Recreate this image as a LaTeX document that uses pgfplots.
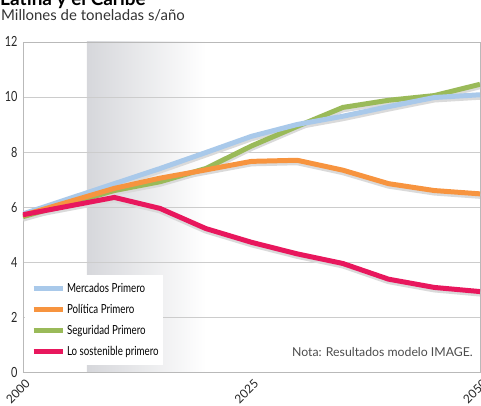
\documentclass[border=0pt]{standalone}
\usepackage{pgfplots}
\pgfplotsset{compat=1.18}
\usepackage{fontspec}
\setmainfont{Lato}
\newfontfamily\cond{Lato}[FakeStretch=0.78]
\definecolor{cblue}{RGB}{169,201,234}
\definecolor{corange}{RGB}{247,148,63}
\definecolor{cgreen}{RGB}{154,186,89}
\definecolor{cpink}{RGB}{232,23,93}
\definecolor{shadeg}{RGB}{214,215,219}
\definecolor{shadow}{RGB}{218,218,218}
\newcommand{\legtxt}[1]{\makebox[88pt][l]{#1}}
\begin{document}
\begin{tikzpicture}
\begin{axis}[
  scale only axis, width=458pt, height=331pt,
  xmin=2000, xmax=2050, ymin=0, ymax=12,
  set layers,
  axis line style={draw=gray!55, line width=0.8pt},
  ymajorgrids, grid style={gray!40, line width=0.8pt},
  xtick={2000,2025,2050}, ytick={0,2,...,12},
  major tick length=0pt,
  /pgf/number format/assume math mode=true,
  /pgf/number format/1000 sep={},
  yticklabel style={font=\cond\fontsize{14}{14}\selectfont, text=black!85, xshift=-2pt},
  xticklabel style={font=\fontsize{12}{12}\selectfont, text=black!85, rotate=45, anchor=east, inner sep=0pt, xshift=-3pt, yshift=-10pt},
  legend style={at={(axis description cs:0,0)}, anchor=south west, xshift=2pt, yshift=7pt,
    draw=none, fill=white, inner xsep=6pt, inner ysep=6pt, row sep=6.5pt,
    font=\cond\fontsize{12.5}{14}\selectfont},
  legend cell align=left,
  legend image code/.code={\draw[#1, line width=5pt] (0pt,0pt) -- (29pt,0pt);},
]
\begin{pgfonlayer}{axis background}
\fill[left color=shadeg, right color=white] (axis cs:2007,0) rectangle (axis cs:2020,12);
\end{pgfonlayer}
% shadows
\addplot[shadow, line width=6pt, yshift=-2pt, forget plot] coordinates {(2000,5.65) (2010,6.6) (2015,6.92) (2020,7.4) (2025,8.22) (2030,8.93) (2035,9.62) (2040,9.88) (2045,10.05) (2050,10.46)};
\addplot[shadow, line width=6pt, yshift=-2pt, forget plot] coordinates {(2000,5.75) (2010,6.85) (2015,7.4) (2020,7.98) (2025,8.57) (2030,9.0) (2035,9.3) (2040,9.65) (2045,9.98) (2050,10.08)};
\addplot[shadow, line width=6pt, yshift=-2pt, forget plot] coordinates {(2000,5.7) (2010,6.68) (2015,7.05) (2020,7.35) (2025,7.66) (2030,7.7) (2035,7.34) (2040,6.85) (2045,6.6) (2050,6.48)};
\addplot[shadow, line width=6pt, yshift=-2pt, forget plot] coordinates {(2000,5.72) (2010,6.35) (2015,5.95) (2020,5.22) (2025,4.72) (2030,4.3) (2035,3.95) (2040,3.38) (2045,3.08) (2050,2.93)};
% lines
\addplot[cgreen, line width=5pt, forget plot] coordinates {(2000,5.65) (2010,6.6) (2015,6.92) (2020,7.4) (2025,8.22) (2030,8.93) (2035,9.62) (2040,9.88) (2045,10.05) (2050,10.46)};
\addplot[cblue, line width=5pt, forget plot] coordinates {(2000,5.75) (2010,6.85) (2015,7.4) (2020,7.98) (2025,8.57) (2030,9.0) (2035,9.3) (2040,9.65) (2045,9.98) (2050,10.08)};
\addplot[corange, line width=5pt, forget plot] coordinates {(2000,5.7) (2010,6.68) (2015,7.05) (2020,7.35) (2025,7.66) (2030,7.7) (2035,7.34) (2040,6.85) (2045,6.6) (2050,6.48)};
\addplot[cpink, line width=5pt, forget plot] coordinates {(2000,5.72) (2010,6.35) (2015,5.95) (2020,5.22) (2025,4.72) (2030,4.3) (2035,3.95) (2040,3.38) (2045,3.08) (2050,2.93)};
\addlegendimage{cblue}\addlegendentry{\legtxt{Mercados Primero}}
\addlegendimage{corange}\addlegendentry{\legtxt{Política Primero}}
\addlegendimage{cgreen}\addlegendentry{\legtxt{Seguridad Primero}}
\addlegendimage{cpink}\addlegendentry{\legtxt{Lo sostenible primero}}
\end{axis}
\node[anchor=base west, inner sep=0pt, font=\bfseries\fontsize{19}{19}\selectfont] at (-23pt,367pt) {Latina y el Caribe};
\node[anchor=base west, inner sep=0pt, font=\fontsize{15}{15}\selectfont, text=black!80] at (-22pt,352pt) {Millones de toneladas s/año};
\node[anchor=base east, inner sep=0pt, font=\fontsize{12.3}{12}\selectfont, text=black!70] at (451pt,16pt) {Nota: Resultados modelo IMAGE.};
\pgfresetboundingbox
\path[use as bounding box] (-23pt,-33pt) rectangle (459pt,373pt);
\end{tikzpicture}
\end{document}
